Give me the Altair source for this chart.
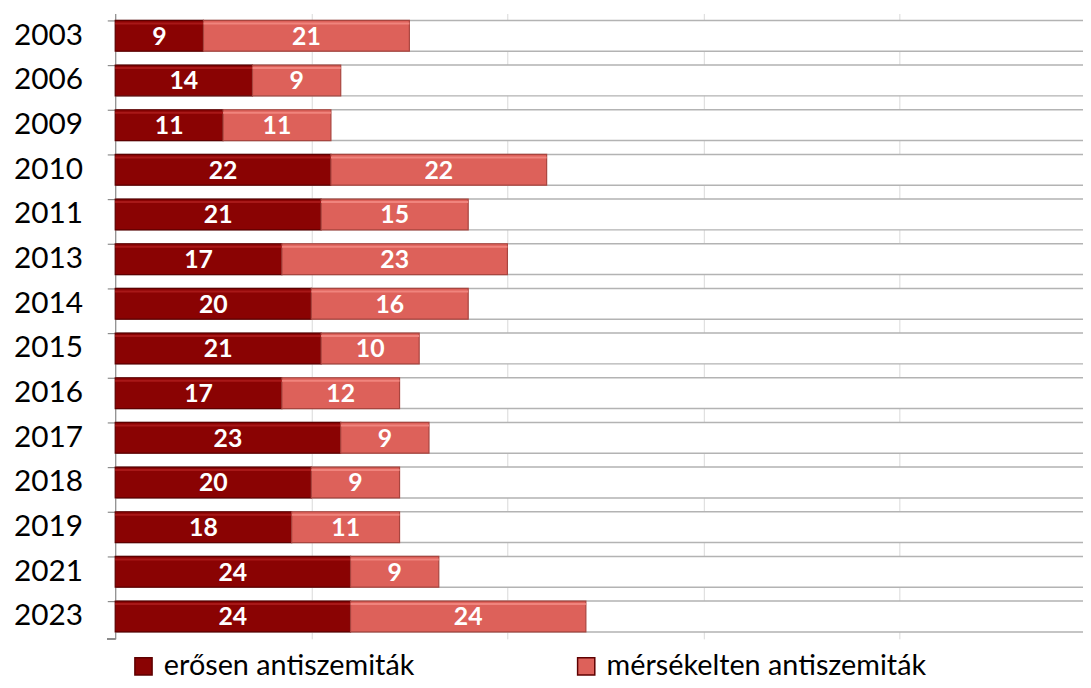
import altair as alt
import pandas as pd

years = ["2003", "2006", "2009", "2010", "2011", "2013", "2014", "2015",
         "2016", "2017", "2018", "2019", "2021", "2023"]
strong = [9, 14, 11, 22, 21, 17, 20, 21, 17, 23, 20, 18, 24, 24]
moderate = [21, 9, 11, 22, 15, 23, 16, 10, 12, 9, 9, 11, 9, 24]
series_names = ["erősen antiszemiták", "mérsékelten antiszemiták"]
colors = ["#8A0303", "#DD615A"]
strokes = ["#5E0000", "#A8453F"]
highlights = ["#A81818", "#F0847D"]
grid_values = [0, 20, 40, 60, 80, 100]

rows = []
for y, s, m in zip(years, strong, moderate):
    rows.append({"year": y, "series": series_names[0], "value": s, "ord": 0})
    rows.append({"year": y, "series": series_names[1], "value": m, "ord": 1})
df = pd.DataFrame(rows)
bg = pd.DataFrame({"year": years, "start": [0] * len(years), "end": [100] * len(years)})

W, H = 975, 630
XMAX = 98.7

xscale = alt.Scale(domain=[0, XMAX], nice=False, zero=True)
yenc = alt.Y("year:N", sort=years, title=None,
             scale=alt.Scale(paddingInner=14 / 45, paddingOuter=7 / 45),
             axis=alt.Axis(labelFont="Lato", labelFontSize=30, labelColor="#000000",
                           labelPadding=25, bandPosition=0, tickSize=8,
                           tickColor="#8c8c8c", domainColor="#8c8c8c",
                           domainWidth=1.2, tickWidth=1.2))

background = alt.Chart(bg).mark_bar(
    fill="#ffffff", stroke="#b3b3b3", strokeWidth=1.5, clip=True, size=31
).encode(
    y=yenc,
    x=alt.X("start:Q", scale=xscale, title=None,
            axis=alt.Axis(values=grid_values, labels=False, ticks=False, domain=False,
                          grid=True, gridColor="#d9d9d9", gridWidth=1)),
    x2="end:Q",
)

bars = alt.Chart(df).mark_bar(size=31, strokeWidth=1.2).encode(
    y=alt.Y("year:N", sort=years),
    x=alt.X("value:Q", stack="zero", scale=xscale),
    color=alt.Color("series:N", sort=series_names,
                    scale=alt.Scale(domain=series_names, range=colors),
                    legend=alt.Legend(title=None, orient="none", legendX=14, legendY=643,
                                      direction="horizontal", columns=2,
                                      columnPadding=158,
                                      symbolType="square", symbolSize=300,
                                      symbolStrokeWidth=1.5, symbolStrokeColor="#5E0000",
                                      labelFont="Lato", labelFontSize=29,
                                      labelColor="#000000", labelLimit=400,
                                      labelOffset=6)),
    stroke=alt.Stroke("series:N", scale=alt.Scale(domain=series_names, range=strokes),
                      legend=None),
    order=alt.Order("ord:Q"),
)

stacked = alt.Chart(df).transform_stack(
    stack="value", groupby=["year"], as_=["x0", "x1"],
    sort=[alt.SortField("ord", order="ascending")]
)

shine = stacked.mark_bar(size=2, yOffset=-12.5).encode(
    y=alt.Y("year:N", sort=years),
    x=alt.X("x0:Q", scale=xscale),
    x2="x1:Q",
    color=alt.Color("series:N", scale=alt.Scale(domain=series_names, range=highlights),
                    legend=None),
)

labels = stacked.transform_calculate(
    mid="(datum.x0 + datum.x1) / 2"
).mark_text(
    font="Lato", fontSize=25, fontWeight="bold", color="#ffffff", baseline="middle", dy=1
).encode(
    y=alt.Y("year:N", sort=years),
    x=alt.X("mid:Q", scale=xscale),
    text=alt.Text("value:Q"),
)

bottom_tick = alt.Chart(bg).mark_rule(color="#8c8c8c", strokeWidth=1.2).encode(
    x=alt.value(-8), x2=alt.value(0), y=alt.value(H)
)

chart = alt.layer(background, bars, shine, labels, bottom_tick).properties(
    width=W, height=H,
    autosize=alt.AutoSizeParams(type="none"),
    padding={"left": 108, "top": 3, "right": 0, "bottom": 46},
).configure_view(stroke=None).resolve_scale(color="independent")

chart.save("out.html", embed_options={"renderer": "svg", "actions": False})
